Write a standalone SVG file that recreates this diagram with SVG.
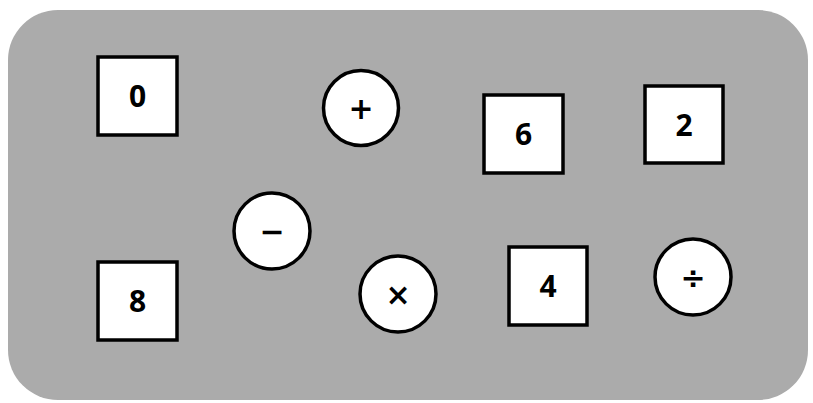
<svg xmlns="http://www.w3.org/2000/svg" width="813" height="403" viewBox="0 0 813 403">
<style>
.bg{fill:#ababab;stroke:none}
.sq{fill:#fff;stroke:#000;stroke-width:3.5}
.ci{fill:#fff;stroke:#000;stroke-width:3.5}
.t{font-family:"Open Sans","Liberation Sans",sans-serif;font-weight:700;font-size:30px;text-anchor:middle;fill:#000}
.op{font-family:"DejaVu Sans","Liberation Sans",sans-serif;font-weight:700;font-size:30px;text-anchor:middle;fill:#000}
</style>
<rect class="bg" x="8" y="10" width="800" height="390" rx="50" ry="50"/>
<g id="n0"><rect class="sq" x="98" y="57" width="79" height="78"/><text class="t" x="137.5" y="107">0</text></g>
<g id="n6"><rect class="sq" x="484" y="95" width="79" height="78"/><text class="t" x="523.5" y="145">6</text></g>
<g id="n2"><rect class="sq" x="645" y="86" width="78" height="77"/><text class="t" x="684" y="136">2</text></g>
<g id="n8"><rect class="sq" x="98" y="262" width="79" height="78"/><text class="t" x="137.5" y="312">8</text></g>
<g id="n4"><rect class="sq" x="509" y="247" width="78" height="78"/><text class="t" x="548" y="297">4</text></g>
<g id="plus"><circle class="ci" cx="361" cy="108" r="37.5"/><text class="op" x="361" y="119">+</text></g>
<g id="minus"><circle class="ci" cx="272" cy="231" r="38"/><text class="op" x="272" y="242">−</text></g>
<g id="times"><circle class="ci" cx="398" cy="294" r="38"/><text class="op" x="398" y="305">×</text></g>
<g id="divide"><circle class="ci" cx="693" cy="277" r="38"/><text class="op" x="693" y="288">÷</text></g>
<g id="connectors"></g>
</svg>
